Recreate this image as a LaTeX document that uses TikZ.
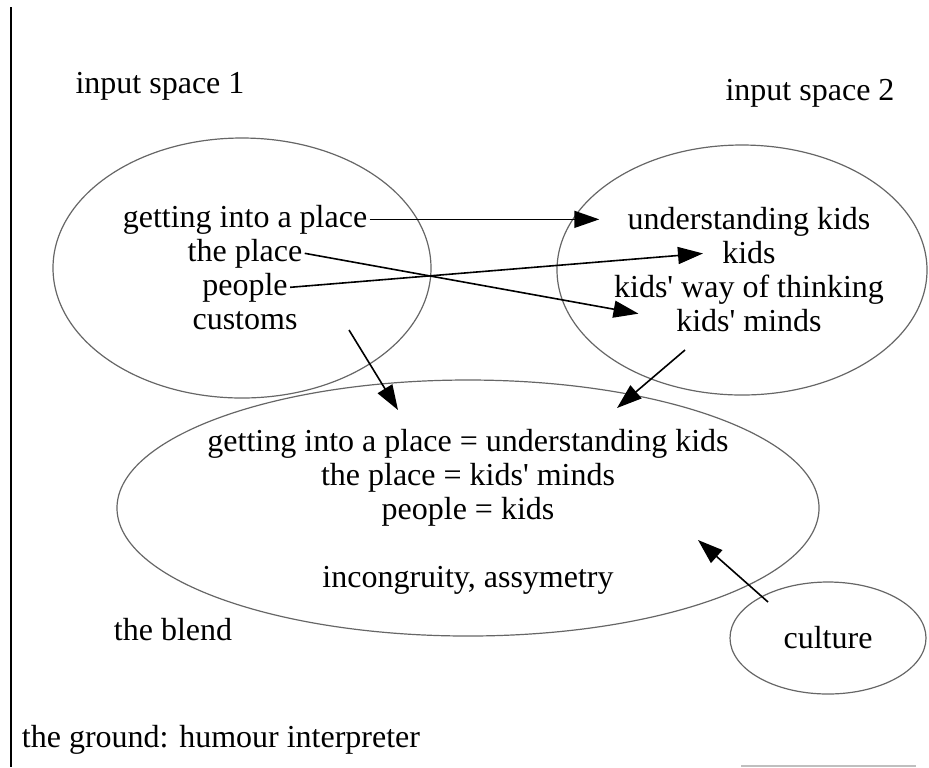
\documentclass[tikz,border=0pt]{standalone}
\usepackage{fontspec}
\setmainfont{Liberation Serif}
\usepackage{tikz}
\usetikzlibrary{positioning,shapes.geometric,arrows.meta}
\tikzset{space/.style={ellipse,draw=black!60,line width=0.6pt,inner sep=0pt},
	 txt/.style={inner sep=1pt,anchor=base,font=\fontsize{16}{17}\selectfont},
	 map/.style={-{Triangle[length=12.5pt,width=8.5pt]},line width=0.8pt},
	 node distance = 17pt
	 }
\newcommand{\q}{\textquotesingle}

\begin{document}
\begin{tikzpicture}[x=0.5pt,y=-0.5pt] % conceptual blend of the joke
	\useasboundingbox (0,0) rectangle (929,767);
	\draw[line width=1.2pt] (11,7) -- (11,767);
	\draw[line width=1pt,black!25] (741,766) -- (916,766);
	% the four spaces
	\node[space,minimum width=189pt,minimum height=130pt] (in1) at (242,268) {};
	\node[space,minimum width=185pt,minimum height=125pt] (in2) at (742,270) {};
	\node[space,minimum width=351pt,minimum height=128pt] (blend) at (468,508) {};
	\node[space,minimum width=98pt,minimum height=56pt,font=\fontsize{16}{17}\selectfont] (cult) at (828,638) {culture};
	% titles
	\node[txt] (t1) at (160,93) {input space 1};
	\node[txt] (t2) at (810,100) {input space 2};
	\node[txt] (tb) at (173,640) {the blend};
	\node[txt] (tg) at (221,747) {the ground: humour interpreter};
	% input space 1
	\node[txt] (gip) at (245,227) {getting into a place};
	\node[txt] (tp) [below=of gip.base,anchor=base] {the place};
	\node[txt] (ppl) [below=of tp.base,anchor=base] {people};
	\node[txt] (cust) [below=of ppl.base,anchor=base] {customs};
	% input space 2
	\node[txt] (uk) at (749,229) {understanding kids};
	\node[txt] (kids) [below=of uk.base,anchor=base] {kids};
	\node[txt] (kwt) [below=of kids.base,anchor=base] {kids\q\ way of thinking};
	\node[txt] (km) [below=of kwt.base,anchor=base] {kids\q\ minds};
	% the blend
	\node[txt] (b1) at (468,451) {getting into a place = understanding kids};
	\node[txt] (b2) [below=of b1.base,anchor=base] {the place = kids\q\ minds};
	\node[txt] (b3) [below=of b2.base,anchor=base] {people = kids};
	\node[txt] (b4) [below=34pt of b3.base,anchor=base] {incongruity, assymetry};
	% free ends
	\coordinate (c1) at (349,330); \coordinate (e1) at (398,410);
	\coordinate (c2) at (685,350); \coordinate (e2) at (617,408);
	\coordinate (c3) at (768,602); \coordinate (e3) at (698,540);

	\draw[map,shorten >=13pt] (gip.east) -- (gip.east -| uk.west);
	\draw[map,shorten >=18pt] (tp.east) -- (km.west);
	\draw[map,shorten >=8.5pt] (ppl.east) -- (kids.west);
	\draw[map] (c1) -- (e1); \draw[map] (c2) -- (e2); \draw[map] (c3) -- (e3);
\end{tikzpicture}
\end{document}
